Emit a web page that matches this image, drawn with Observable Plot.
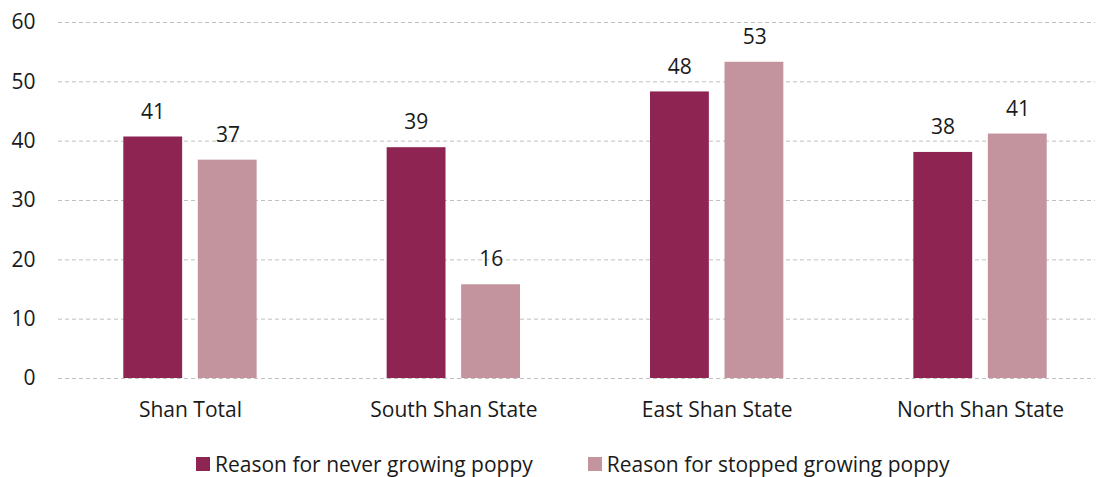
<!DOCTYPE html>
<html>
<head>
<meta charset="utf-8">
<script src="https://cdn.jsdelivr.net/npm/d3@7"></script>
<script src="https://cdn.jsdelivr.net/npm/@observablehq/plot@0.6"></script>
<style>
  body { margin: 0; background: #fff; font-family: "Open Sans", sans-serif; }
  #chart svg { display: block; }
  .legend { display: flex; gap: 55px; padding-left: 196px; margin-top: 20px; font-size: 21px; color: #1a1a1a; align-items: center; }
  .legend span.item { display: flex; align-items: center; }
  .legend i { display: inline-block; width: 14px; height: 14px; margin-right: 5px; }
</style>
</head>
<body>
<div id="chart"></div>
<script>
const groups = ["Shan Total", "South Shan State", "East Shan State", "North Shan State"];
const seriesNames = ["Reason for never growing poppy", "Reason for stopped growing poppy"];
const neverValues = [40.7, 38.9, 48.3, 38.1];
const stoppedValues = [36.8, 15.8, 53.3, 41.2];
const yTicks = [0, 10, 20, 30, 40, 50, 60];
const colors = ["#8E2452", "#C4949E"];

const neverData = groups.map((g, i) => ({group: g, value: neverValues[i]}));
const stoppedData = groups.map((g, i) => ({group: g, value: stoppedValues[i]}));

const W = 1104, H = 430;
const chart = Plot.plot({
  width: W,
  height: H,
  marginLeft: 58,
  marginRight: 9,
  marginTop: 22,
  marginBottom: 52,
  style: {fontFamily: "'Open Sans', sans-serif", fontSize: "21px", color: "#1a1a1a", overflow: "visible"},
  x: {domain: groups, range: [58.3, 1111.7], padding: 0, round: false, label: null},
  y: {domain: [0, 60], label: null},
  marks: [
    Plot.ruleY(yTicks, {stroke: "#c0c0c0", strokeDasharray: "4,3", strokeWidth: 1}),
    Plot.axisY(yTicks, {tickSize: 0, tickPadding: 23, label: null, fontSize: 21}),
    Plot.axisX({tickSize: 0, tickPadding: 24, label: null, fontSize: 21}),
    Plot.barY(neverData, {x: "group", y: "value", fill: colors[0], insetLeft: 65, insetRight: 139.5}),
    Plot.barY(stoppedData, {x: "group", y: "value", fill: colors[1], insetLeft: 139.5, insetRight: 65}),
    Plot.text(neverData, {x: "group", y: "value", text: d => Math.round(d.value), dx: -37.5, dy: -25, fontSize: 21, fill: "#1a1a1a"}),
    Plot.text(stoppedData, {x: "group", y: "value", text: d => Math.round(d.value), dx: 37.5, dy: -25, fontSize: 21, fill: "#1a1a1a"})
  ]
});
document.getElementById("chart").appendChild(chart);

const legend = document.createElement("div");
legend.className = "legend";
seriesNames.forEach((name, i) => {
  const item = document.createElement("span");
  item.className = "item";
  const sw = document.createElement("i");
  sw.style.background = colors[i];
  item.appendChild(sw);
  item.appendChild(document.createTextNode(name));
  legend.appendChild(item);
});
document.getElementById("chart").appendChild(legend);
</script>
</body>
</html>
